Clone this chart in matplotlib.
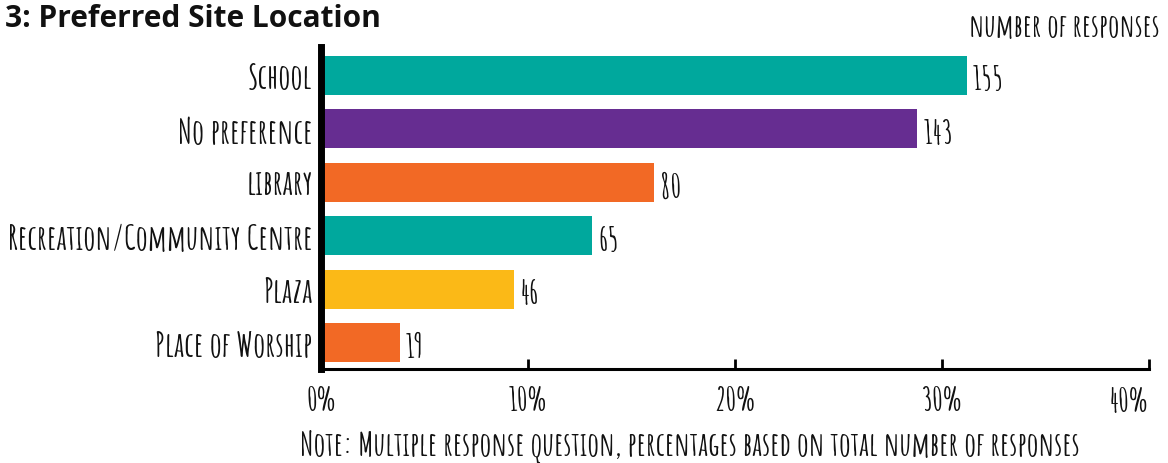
import matplotlib
matplotlib.use("Agg")
import matplotlib.pyplot as plt
from matplotlib import font_manager as fm

categories = ["School", "No preference", "library", "Recreation/Community Centre", "Plaza", "Place of Worship"]
percent = [31.2, 28.8, 16.1, 13.1, 9.3, 3.8]
counts = [155, 143, 80, 65, 46, 19]
colors = ["#00A89D", "#662D91", "#F26925", "#00A89D", "#FBB917", "#F26925"]
xticks = [0, 10, 20, 30, 40]
xticklabels = ["0%", "10%", "20%", "30%", "40%"]

HAND = ["Amatic SC", "DejaVu Sans"]
INK = "#111111"


def find_bold(names):
    for nm in names:
        for f in fm.fontManager.ttflist:
            if (f.name == nm and f.style == "normal" and str(f.stretch) == "normal"
                    and f.weight in (700, "bold") and "ondensed" not in f.fname
                    and "[" not in f.fname):
                return fm.FontProperties(fname=f.fname)
    return fm.FontProperties(family="DejaVu Sans", weight="bold")


title_fp = find_bold(["Open Sans", "Noto Sans", "Lato"])
title_fp.set_size(21.5)

fig = plt.figure(figsize=(11.68, 4.64), dpi=100)
W, H = 1168, 464
ax = fig.add_axes([321 / W, 94 / H, (1149 - 321) / W, (416 - 94) / H])

y = list(range(len(categories)))
ax.barh(y, percent, height=0.73, color=colors, zorder=2)
ax.set_ylim(5.49, -0.53)
ax.set_xlim(0, 40)

for yi, p, c in zip(y, percent, counts):
    ax.text(p + 0.3, yi + 0.04, str(c), va="center", ha="left", fontsize=24,
            family=HAND, fontweight="bold", color=INK)

ax.set_yticks(y)
ax.set_yticklabels(categories, family=HAND, fontweight="bold", fontsize=24.5, color=INK)
ax.set_xticks(xticks)
ax.set_xticklabels(xticklabels, family=HAND, fontweight="bold", fontsize=24, color=INK)
ax.get_xticklabels()[-1].set_horizontalalignment("right")
ax.get_xticklabels()[-1].set_x(40.1)

ax.tick_params(axis="y", length=0, pad=6)
ax.tick_params(axis="x", direction="in", length=7, width=2, pad=12, color="black")

for s in ["top", "right"]:
    ax.spines[s].set_visible(False)
ax.spines["left"].set_linewidth(5)
ax.spines["left"].set_color("black")
ax.spines["bottom"].set_linewidth(2.2)
ax.spines["bottom"].set_color("black")

fig.text(5 / W, 1 - 27 / H, "3: Preferred Site Location", fontproperties=title_fp,
         ha="left", va="baseline", color=INK)
fig.text(1160 / W, 1 - 37 / H, "number of responses", family=HAND, fontweight="bold",
         fontsize=23, ha="right", va="baseline", color=INK)
fig.text(300 / W, 1 - 456 / H,
         "Note: Multiple response question, percentages based on total number of responses",
         family=HAND, fontweight="bold", fontsize=23.7, ha="left", va="baseline", color=INK)

fig.savefig("out.png", dpi=100)
